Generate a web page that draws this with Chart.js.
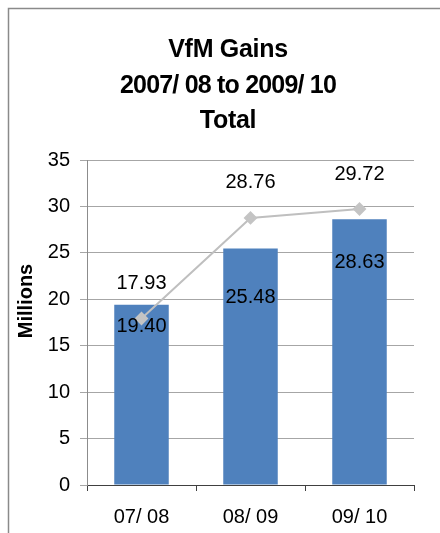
<!DOCTYPE html>
<html>
<head>
<meta charset="utf-8">
<script src="https://cdn.jsdelivr.net/npm/chart.js@4"></script>
<style>
  html, body { margin: 0; padding: 0; background: #fff; }
  #wrap { width: 440px; height: 533px; position: relative; }
</style>
</head>
<body>
<div id="wrap"><canvas id="c" width="440" height="533"></canvas></div>
<script>
// ---- data ----
const categories = ['07/ 08', '08/ 09', '09/ 10'];
const barValues = [19.40, 25.48, 28.63];
const lineValues = [17.93, 28.76, 29.72];
const yTicks = [0, 5, 10, 15, 20, 25, 30, 35];
const titleLines = ['VfM Gains', '2007/ 08 to 2009/ 10', 'Total'];
const yAxisTitle = 'Millions';

// label placement (styles)
const barLabelOffsets = [22, 49, 43];
const lineLabelOffset = -35;

const FONT = "'Liberation Sans', Arial, sans-serif";

const decor = {
  id: 'decor',
  beforeDraw(chart) {
    const ctx = chart.ctx;
    ctx.save();
    ctx.strokeStyle = '#8a8a8a';
    ctx.lineWidth = 1.5;
    ctx.beginPath();
    ctx.moveTo(8.5, 533);
    ctx.lineTo(8.5, 8.5);
    ctx.lineTo(440, 8.5);
    ctx.stroke();
    ctx.restore();
  },
  afterDraw(chart) {
    const ctx = chart.ctx;
    ctx.save();
    ctx.fillStyle = '#000';
    ctx.font = 'bold 25px ' + FONT;
    ctx.textAlign = 'center';
    ctx.textBaseline = 'alphabetic';
    const baselines = [57, 93, 128];
    const spacing = ['-0.3px', '-0.8px', '-0.3px'];
    titleLines.forEach((t, i) => {
      ctx.letterSpacing = spacing[i];
      ctx.fillText(t, 228, baselines[i]);
    });
    ctx.letterSpacing = '0px';
    // y axis title
    ctx.translate(26, 301);
    ctx.rotate(-Math.PI / 2);
    ctx.font = 'bold 20px ' + FONT;
    ctx.textBaseline = 'middle';
    ctx.fillText(yAxisTitle, 0, 0);
    ctx.restore();
  }
};

const dataLabels = {
  id: 'dataLabels',
  afterDatasetsDraw(chart) {
    const ctx = chart.ctx;
    ctx.save();
    ctx.fillStyle = '#000';
    ctx.font = '20px ' + FONT;
    ctx.textAlign = 'center';
    ctx.textBaseline = 'middle';
    const lineMeta = chart.getDatasetMeta(0);
    const barMeta = chart.getDatasetMeta(1);
    barMeta.data.forEach((el, i) => {
      ctx.fillText(barValues[i].toFixed(2), el.x, el.y + barLabelOffsets[i]);
    });
    lineMeta.data.forEach((el, i) => {
      ctx.fillText(lineValues[i].toFixed(2), el.x, el.y + lineLabelOffset);
    });
    ctx.restore();
  }
};

new Chart(document.getElementById('c'), {
  type: 'bar',
  data: {
    labels: categories,
    datasets: [
      {
        type: 'line',
        data: lineValues,
        borderColor: '#BFBFBF',
        backgroundColor: '#BFBFBF',
        borderWidth: 2,
        pointStyle: 'rectRot',
        pointRadius: 5.5,
        pointBackgroundColor: '#C4C4C4',
        pointBorderColor: '#C4C4C4',
        tension: 0,
        order: 0
      },
      {
        type: 'bar',
        data: barValues,
        backgroundColor: '#4F81BD',
        borderWidth: 0,
        barPercentage: 0.5,
        categoryPercentage: 1.0,
        order: 1
      }
    ]
  },
  options: {
    responsive: false,
    animation: false,
    devicePixelRatio: 1,
    layout: { padding: { top: 160, right: 26, left: 0, bottom: 0 } },
    plugins: {
      legend: { display: false },
      title: { display: false },
      tooltip: { enabled: false }
    },
    scales: {
      x: {
        offset: true,
        grid: {
          offset: true,
          drawOnChartArea: false,
          drawTicks: true,
          tickLength: 6,
          color: '#404040'
        },
        border: { color: '#404040', width: 1 },
        ticks: {
          color: '#000',
          font: { family: FONT, size: 20 },
          padding: 14,
          maxRotation: 0
        },
        afterFit(scale) { scale.height = 48; }
      },
      y: {
        min: 0,
        max: 35,
        afterBuildTicks(scale) { scale.ticks = yTicks.map(v => ({ value: v })); },
        grid: {
          color: '#A6A6A6',
          tickLength: 7,
          drawTicks: true
        },
        border: { color: '#8C8C8C', width: 1 },
        ticks: {
          color: '#000',
          font: { family: FONT, size: 20 },
          padding: 10
        },
        title: { display: false },
        afterFit(scale) { scale.width = 87; }
      }
    }
  },
  plugins: [decor, dataLabels]
});
</script>
</body>
</html>
